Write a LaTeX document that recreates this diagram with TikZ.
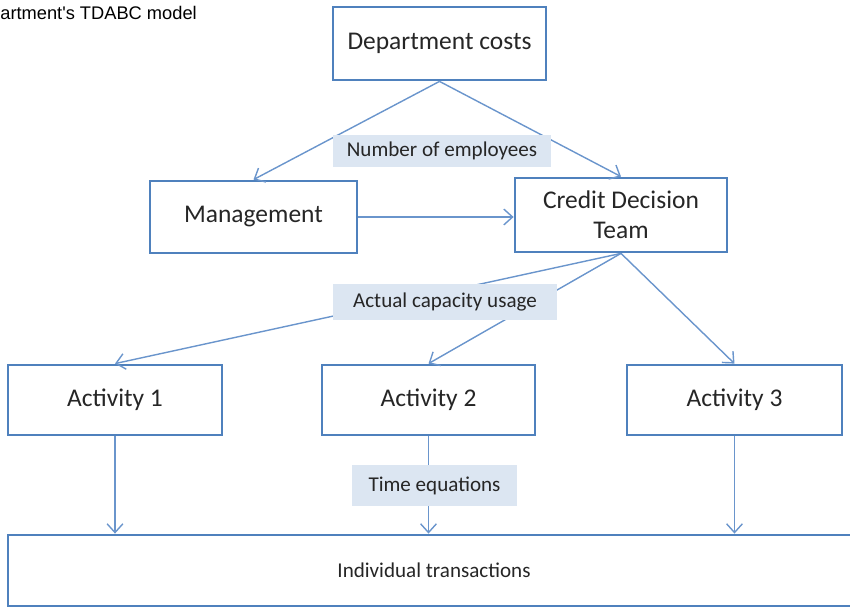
\documentclass[tikz,border=0pt]{standalone}
\usepackage{xcolor}
\usepackage{fontspec}
\setmainfont{Carlito}
\newfontfamily\capfont{Liberation Sans}
\usepackage{tikz}
\usetikzlibrary{shapes,arrows.meta,positioning}
\definecolor{boxblue}{HTML}{4F81BD}
\definecolor{lineblue}{HTML}{6A95CC}
\definecolor{tagfill}{HTML}{DCE6F2}

\begin{document}
\begin{tikzpicture}[x=0.02cm, y=-0.02cm, >={Straight Barb[length=5pt,width=9pt]}]
                    % Define styles
                    \tikzstyle{unit} = [rectangle, draw=boxblue, line width=1.6pt, fill=white, minimum height=1.44cm, text=black!85, align=center, font=\fontsize{14.5}{17}\selectfont]
                    \tikzstyle{driver} = [rectangle, fill=tagfill, text=black!85, font=\fontsize{12}{14}\selectfont]
                    \tikzstyle{line} = [draw=lineblue, ->, line width=0.8pt]

                    \useasboundingbox (0,0) rectangle (850,608);

                    % Caption (cut off at the left)
                    \node [anchor=base west, inner sep=0pt, font=\capfont\fontsize{10.4}{12}\selectfont] (caption) at (0,20) {artment's TDABC model};

                    % Resources
                    \node [unit, minimum width=4.26cm, minimum height=1.46cm] (dept) at (439.5,43.5) {Department costs};
                    \node [unit, minimum width=4.14cm] (mgmt) at (253.5,217) {Management};
                    \node [unit, minimum width=4.24cm, minimum height=1.48cm] (credit) at (621,215) {Credit Decision\\Team};

                    % Activities
                    \node [unit, minimum width=4.28cm, minimum height=1.4cm] (act1) at (115,400) {Activity 1};
                    \node [unit, minimum width=4.26cm, minimum height=1.4cm] (act2) at (428.5,400) {Activity 2};
                    \node [unit, minimum width=4.3cm, minimum height=1.4cm] (act3) at (734.5,400) {Activity 3};

                    % Cost objects
                    \node [unit, minimum width=17.04cm, minimum height=1.42cm, font=\fontsize{12}{14}\selectfont] (trans) at (434,570.5) {Individual transactions};

                    % Arrows from department costs
                    \draw [line] (dept.south) -- (mgmt.north);
                    \draw [line] (dept.south) -- (credit.north);
                    \draw [line] (mgmt.east) -- (mgmt.east -| credit.west);

                    % Arrows to the activities
                    \draw [line] (credit.south) -- (act1.north);
                    \draw [line] (credit.south) -- (act2.north);
                    \draw [line] (credit.south) -- (act3.north);

                    % Arrows to the transactions
                    \draw [line] (act1.south) -- (act1.south |- trans.north);
                    \draw [line] (act2.south) -- (act2.south |- trans.north);
                    \draw [line] (act3.south) -- (act3.south |- trans.north);

                    % Cost drivers on top of the arrows
                    \node [driver, minimum width=4.38cm, minimum height=0.64cm] (emp) at (442,151) {Number of employees};
                    \node [driver, minimum width=4.48cm, minimum height=0.72cm] (usage) at (445,302) {Actual capacity usage};
                    \node [driver, minimum width=3.3cm, minimum height=0.82cm] (timeeq) at (434.5,485.5) {Time equations};
                \end{tikzpicture}
\end{document}
